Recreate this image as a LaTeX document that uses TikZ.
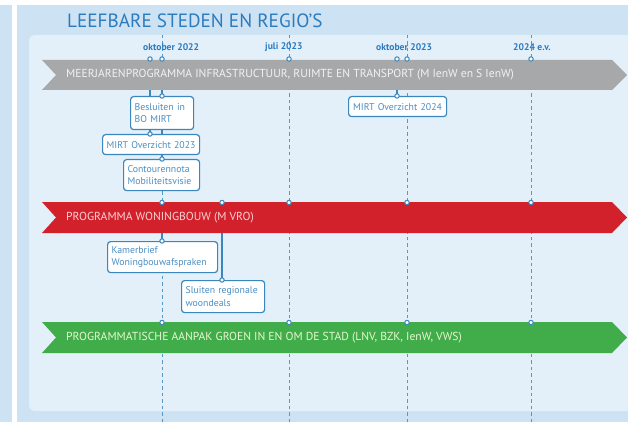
\documentclass[tikz,border=0pt]{standalone}
\usepackage{fontspec}
\setmainfont{PT Sans}
\definecolor{outerbg}{HTML}{CDE3F3}
\definecolor{innerbg}{HTML}{E3F0FA}
\definecolor{lineblue}{HTML}{3A86BD}
\definecolor{titleblue}{HTML}{2B7BBF}
\definecolor{boxtext}{HTML}{4A8EC4}
\definecolor{bandgray}{HTML}{A7A8AA}
\definecolor{bandred}{HTML}{D3212B}
\definecolor{bandgreen}{HTML}{40AD4A}
\definecolor{graytext}{HTML}{F2F2F2}
\definecolor{redtext}{HTML}{F9D3D6}
\definecolor{greentext}{HTML}{E8F5D2}
\pgfdeclarelayer{bglayer}
\pgfdeclarelayer{connlayer}
\pgfdeclarelayer{bandlayer}
\pgfsetlayers{bglayer,connlayer,bandlayer,main}
\tikzset{
  every picture/.style={x=1pt,y=-1pt},
  dashline/.style={draw=lineblue!85,line width=1pt,dash pattern=on 3.5pt off 3pt},
  conn/.style={draw=lineblue,line width=1.1pt},
  dot/.style={circle,draw=lineblue,fill=white,inner sep=0pt,minimum size=4.4pt,line width=1pt},
  bandtext/.style={anchor=west,inner sep=0pt,font=\fontsize{11.6}{13}\selectfont},
  datelabel/.style={anchor=west,inner sep=0pt,text=titleblue,font=\fontsize{9.6}{11}\selectfont\bfseries},
  infobox/.style={draw=lineblue,fill=white,rounded corners=3pt,line width=1.2pt,
    anchor=north west,inner xsep=4pt,inner ysep=1pt,text=boxtext,
    font=\fontsize{9.8}{12.5}\selectfont,align=left},
}
\newcommand{\bandshape}[3]{% fill, top y, bottom y
  \fill[#1] (42,#2) -- (612,#2) -- (627,{(#2+#3)/2}) -- (612,#3) -- (42,#3) -- (56,{(#2+#3)/2}) -- cycle;}
\begin{document}
\begin{tikzpicture}
\useasboundingbox (0,0) rectangle (628,422);
\begin{pgfonlayer}{bglayer}
\fill[outerbg] (0,5) rectangle (12,422);
\fill[outerbg] (17,5) rectangle (628,422);
\fill[innerbg,rounded corners=6pt] (29,35) rectangle (640,411);
\foreach \n/\x in {a/162,b/289,c/407,d/531}{
  \coordinate (top\n) at (\x,35);
  \coordinate (bot\n) at (\x,422);
  \draw[dashline] (top\n) -- (bot\n);
}
\end{pgfonlayer}
% title
\node[anchor=west,inner sep=0pt,text=titleblue,font=\fontsize{19.2}{21}\selectfont] (title) at (67,21) {LEEFBARE STEDEN EN REGIO’S};
% date labels
\node[datelabel] (d1) at (143,47) {oktober 2022};
\node[datelabel] (d2) at (265,47) {juli 2023};
\node[datelabel] (d3) at (376,47) {oktober 2023};
\node[datelabel] (d4) at (513,47) {2024 e.v.};
% boxes
\node[infobox,text width=55pt,minimum height=33pt] (besl) at (130,96) {Besluiten in\\BO MIRT};
\node[infobox,text width=89pt,minimum height=20pt,align=center] (mirt23) at (102,134) {MIRT Overzicht 2023};
\node[infobox,text width=68pt,minimum height=31pt] (contour) at (123,159) {Contourennota\\Mobiliteitsvisie};
\node[infobox,text width=90pt,minimum height=20pt,align=center] (mirt24) at (348,96) {MIRT Overzicht 2024};
\node[infobox,text width=102pt,minimum height=31pt] (kamer) at (107,241) {Kamerbrief\\Woningbouwafspraken};
\node[infobox,text width=75pt,minimum height=32pt] (sluiten) at (181,280) {Sluiten regionale\\woondeals};
% band anchor coordinates
\coordinate (g150) at (150,75);
\coordinate (g162) at (162,75);
\coordinate (g397) at (397,75);
\coordinate (r162) at (162,217);
\coordinate (r222) at (222,217);
\begin{pgfonlayer}{connlayer}
\draw[conn] (g150) -- (mirt23.north -| g150);
\draw[conn] (g162) -- (contour.north -| g162);
\draw[conn] (g397) -- (mirt24.north -| g397);
\draw[conn] (r162) -- (kamer.north -| r162);
\draw[conn] (r222) -- (sluiten.north -| r222);
\end{pgfonlayer}
\begin{pgfonlayer}{bandlayer}
\bandshape{bandgray}{60}{90}
\bandshape{bandred}{202}{233}
\bandshape{bandgreen}{322}{353}
\end{pgfonlayer}
\node[bandtext,text=graytext] (t1) at (66,75) {MEERJARENPROGRAMMA INFRASTRUCTUUR, RUIMTE EN TRANSPORT (M IenW en S IenW)};
\node[bandtext,text=redtext] (t2) at (66,217.5) {PROGRAMMA WONINGBOUW (M VRO)};
\node[bandtext,text=greentext] (t3) at (66,337.5) {PROGRAMMATISCHE AANPAK GROEN IN EN OM DE STAD (LNV, BZK, IenW, VWS)};
% dots on band tops
\foreach \x in {150,162,289,397,407,531}{\node[dot] (gd\x) at (\x,59) {};}
\foreach \x in {162,222,289,407,531}{\node[dot] (rd\x) at (\x,202.5) {};}
\foreach \x in {162,289,407,531}{\node[dot] (nd\x) at (\x,322.5) {};}
% dots on box tops
\node[dot] (bd1) at (besl.north -| g162) {};
\node[dot] (bd2) at (mirt23.north -| g150) {};
\node[dot] (bd3) at (contour.north -| g162) {};
\node[dot] (bd4) at (mirt24.north -| g397) {};
\node[dot] (bd5) at (kamer.north -| r162) {};
\node[dot] (bd6) at (sluiten.north -| r222) {};
\end{tikzpicture}
\end{document}
